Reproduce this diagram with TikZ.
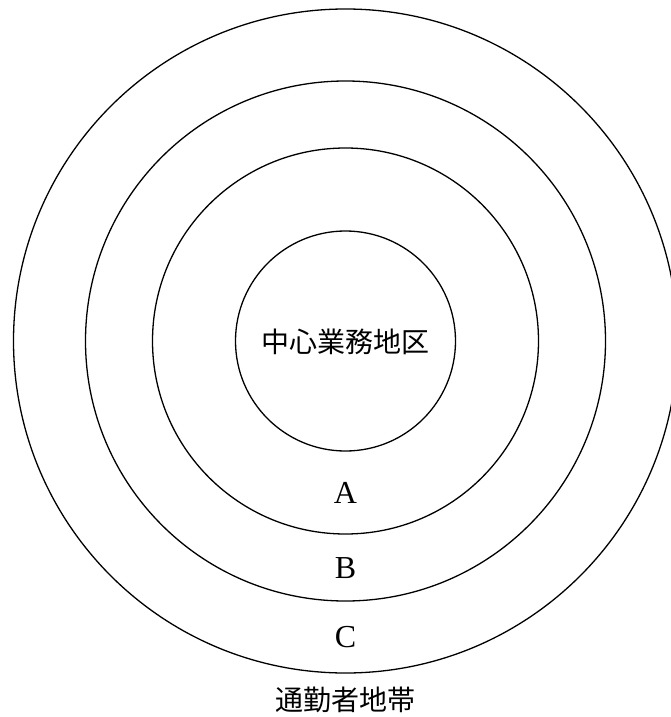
\documentclass[tikz,border=0pt]{standalone}
\usepackage{fontspec}
\setmainfont{Liberation Serif}
\newfontfamily\cjk{Noto Sans CJK JP}
\begin{document}
\begin{tikzpicture}[x=1pt,y=-1pt]
        \useasboundingbox (0,0) rectangle (670,717);
        \begin{scope}[every node/.style={draw,circle,line width=1.3pt,inner sep=0pt,outer sep=0pt}]
            \node[minimum size=664pt] (zc) at (345.5,341) {};
            \node[minimum size=520pt] (zb) at (345.5,341) {};
            \node[minimum size=386pt] (za) at (345.5,341) {};
            \node[minimum size=220pt] (cbd) at (345.5,341) {};
        \end{scope}
        \begin{scope}[every node/.style={inner sep=0pt,font=\fontsize{32}{38}\selectfont}]
            \node (s1) at (345.5,342) {\fontsize{28}{34}\selectfont\cjk 中心業務地区};
            \node (s2) at (345.5,493) {A};
            \node (s3) at (345.5,568) {B};
            \node (s4) at (345.5,637) {C};
            \node (s5) at (345.5,700) {\fontsize{28}{34}\selectfont\cjk 通勤者地帯};
        \end{scope}
    \end{tikzpicture}
\end{document}
